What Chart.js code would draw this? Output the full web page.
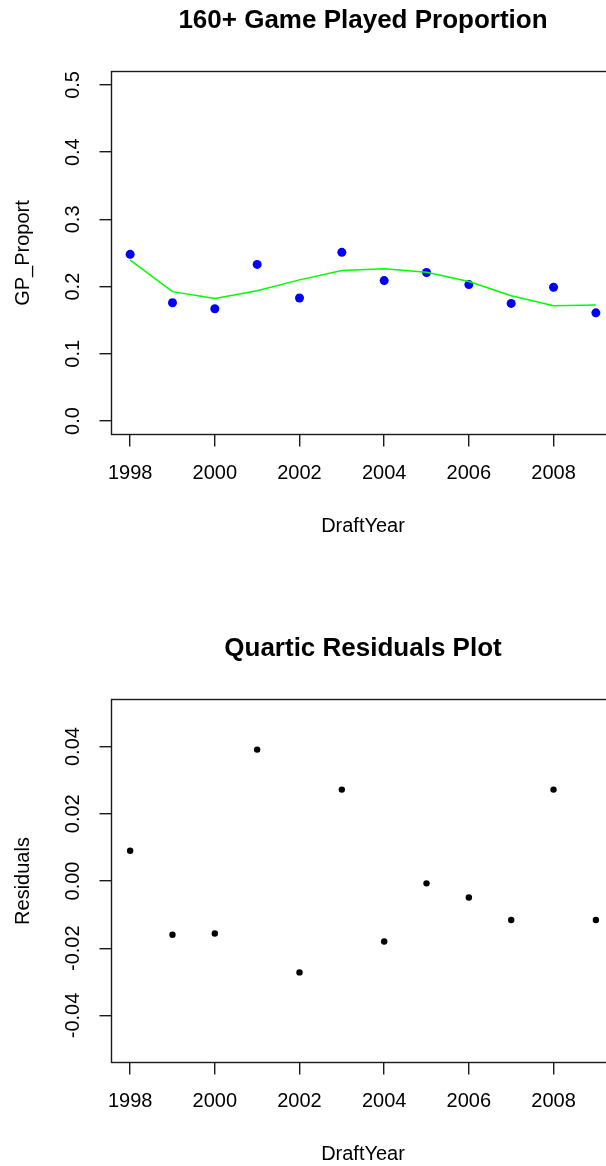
<!DOCTYPE html>
<html>
<head>
<meta charset="utf-8">
<script src="https://cdn.jsdelivr.net/npm/chart.js@4/dist/chart.umd.min.js"></script>
<style>
  html, body { margin: 0; padding: 0; background: #fff; width: 606px; height: 1166px; overflow: hidden; }
  .panel { position: absolute; left: 0; width: 620px; height: 560px; }
  #panelTop { top: 0; }
  #panelBottom { top: 628px; }
</style>
</head>
<body>
<div class="panel" id="panelTop"><canvas id="gpChart" width="620" height="560"></canvas></div>
<div class="panel" id="panelBottom"><canvas id="residChart" width="620" height="560"></canvas></div>
<script>
// Draft classes and the share of players reaching 160+ games
const draftYears = [1998, 1999, 2000, 2001, 2002, 2003, 2004, 2005, 2006, 2007, 2008, 2009];
const gpProport  = [0.248, 0.176, 0.167, 0.233, 0.183, 0.251, 0.209, 0.221, 0.203, 0.175, 0.199, 0.161];
// Quartic fit evaluated at each draft year
const quarticFit = [0.2395, 0.1925, 0.1825, 0.1940, 0.2100, 0.2240, 0.2265, 0.2215, 0.2075, 0.1865, 0.1715, 0.1727];
// Residuals of the quartic fit
const residuals  = [0.0090, -0.0160, -0.0156, 0.0391, -0.0272, 0.0272, -0.0180, -0.0007, -0.0049, -0.0116, 0.0272, -0.0116];

// Axis ticks
const yearTicks = [1998, 2000, 2002, 2004, 2006, 2008];
const propTicks = [0, 0.1, 0.2, 0.3, 0.4, 0.5];
const propTickLabels = ['0.0', '0.1', '0.2', '0.3', '0.4', '0.5'];
const residTicks = [-0.04, -0.02, 0, 0.02, 0.04];
const residTickLabels = ['-0.04', '-0.02', '0.00', '0.02', '0.04'];

const FONT = '"Liberation Sans", Arial, Helvetica, sans-serif';
const INK = '#1a1a1a';
Chart.defaults.font.family = FONT;
Chart.defaults.color = '#000';

// Base-R look: a full box around the plot region and y tick labels rotated parallel to the axis
function boxPlugin(tickValues, tickLabels) {
  return {
    id: 'rBox',
    afterDraw(chart) {
      const { ctx, chartArea: a } = chart;
      ctx.save();
      ctx.strokeStyle = INK;
      ctx.lineWidth = 1.4;
      ctx.strokeRect(a.left, a.top, a.right - a.left, a.bottom - a.top);
      const ys = chart.scales.y;
      ctx.font = '20px ' + FONT;
      ctx.fillStyle = '#000';
      ctx.textAlign = 'center';
      ctx.textBaseline = 'middle';
      tickValues.forEach((v, i) => {
        ctx.save();
        ctx.translate(73.5, ys.getPixelForValue(v));
        ctx.rotate(-Math.PI / 2);
        ctx.fillText(tickLabels[i], 0, 0);
        ctx.restore();
      });
      ctx.restore();
    }
  };
}

function makeOptions(title, yTitle, yMin, yMax, yTickValues) {
  return {
    responsive: false,
    animation: false,
    events: [],
    layout: { padding: { left: 0, right: 5.5, top: 0, bottom: 0 } },
    plugins: {
      legend: { display: false },
      tooltip: { enabled: false },
      title: {
        display: true,
        text: title,
        fullSize: false,
        color: '#000',
        font: { family: FONT, size: 26, weight: 'bold', lineHeight: 1.2 },
        padding: { top: 4.9, bottom: 35.4 }
      }
    },
    scales: {
      x: {
        type: 'linear',
        min: 1997.56,
        max: 2009.44,
        afterBuildTicks: s => { s.ticks = yearTicks.map(v => ({ value: v })); },
        afterFit: s => { s.height = 125.5; },
        border: { display: false },
        grid: { display: true, drawOnChartArea: false, drawTicks: true, tickLength: 12, color: INK, lineWidth: 1.4 },
        ticks: {
          autoSkip: false, maxRotation: 0, minRotation: 0, padding: 15,
          color: '#000', font: { family: FONT, size: 20 },
          callback: v => String(v)
        },
        title: { display: true, text: 'DraftYear', color: '#000', font: { family: FONT, size: 20 }, padding: { top: 0, bottom: 22 } }
      },
      y: {
        type: 'linear',
        min: yMin,
        max: yMax,
        afterBuildTicks: s => { s.ticks = yTickValues.map(v => ({ value: v })); },
        afterFit: s => { s.width = 111.5; },
        border: { display: false },
        grid: { display: true, drawOnChartArea: false, drawTicks: true, tickLength: 12, color: INK, lineWidth: 1.4 },
        ticks: { display: false },
        title: { display: true, text: yTitle, color: '#000', font: { family: FONT, size: 20 }, padding: { top: 11, bottom: 0 } }
      }
    }
  };
}

// Top panel: observed proportions with the quartic fit
new Chart(document.getElementById('gpChart'), {
  type: 'scatter',
  data: {
    datasets: [
      {
        label: 'Quartic fit',
        data: draftYears.map((x, i) => ({ x, y: quarticFit[i] })),
        showLine: true,
        borderColor: '#00ff00',
        borderWidth: 1.5,
        pointRadius: 0,
        tension: 0,
        order: 0
      },
      {
        label: 'GP_Proport',
        data: draftYears.map((x, i) => ({ x, y: gpProport[i] })),
        showLine: false,
        backgroundColor: '#0000ff',
        borderColor: '#0000ff',
        pointRadius: 4.5,
        pointBorderWidth: 0,
        order: 1
      }
    ]
  },
  options: makeOptions('160+ Game Played Proportion', 'GP_Proport', -0.02, 0.52, propTicks),
  plugins: [boxPlugin(propTicks, propTickLabels)]
});

// Bottom panel: residuals of the quartic fit
new Chart(document.getElementById('residChart'), {
  type: 'scatter',
  data: {
    datasets: [
      {
        label: 'Residuals',
        data: draftYears.map((x, i) => ({ x, y: residuals[i] })),
        showLine: false,
        backgroundColor: '#000',
        borderColor: '#000',
        pointRadius: 3.2,
        pointBorderWidth: 0
      }
    ]
  },
  options: makeOptions('Quartic Residuals Plot', 'Residuals', -0.054, 0.054, residTicks),
  plugins: [boxPlugin(residTicks, residTickLabels)]
});
</script>
</body>
</html>
